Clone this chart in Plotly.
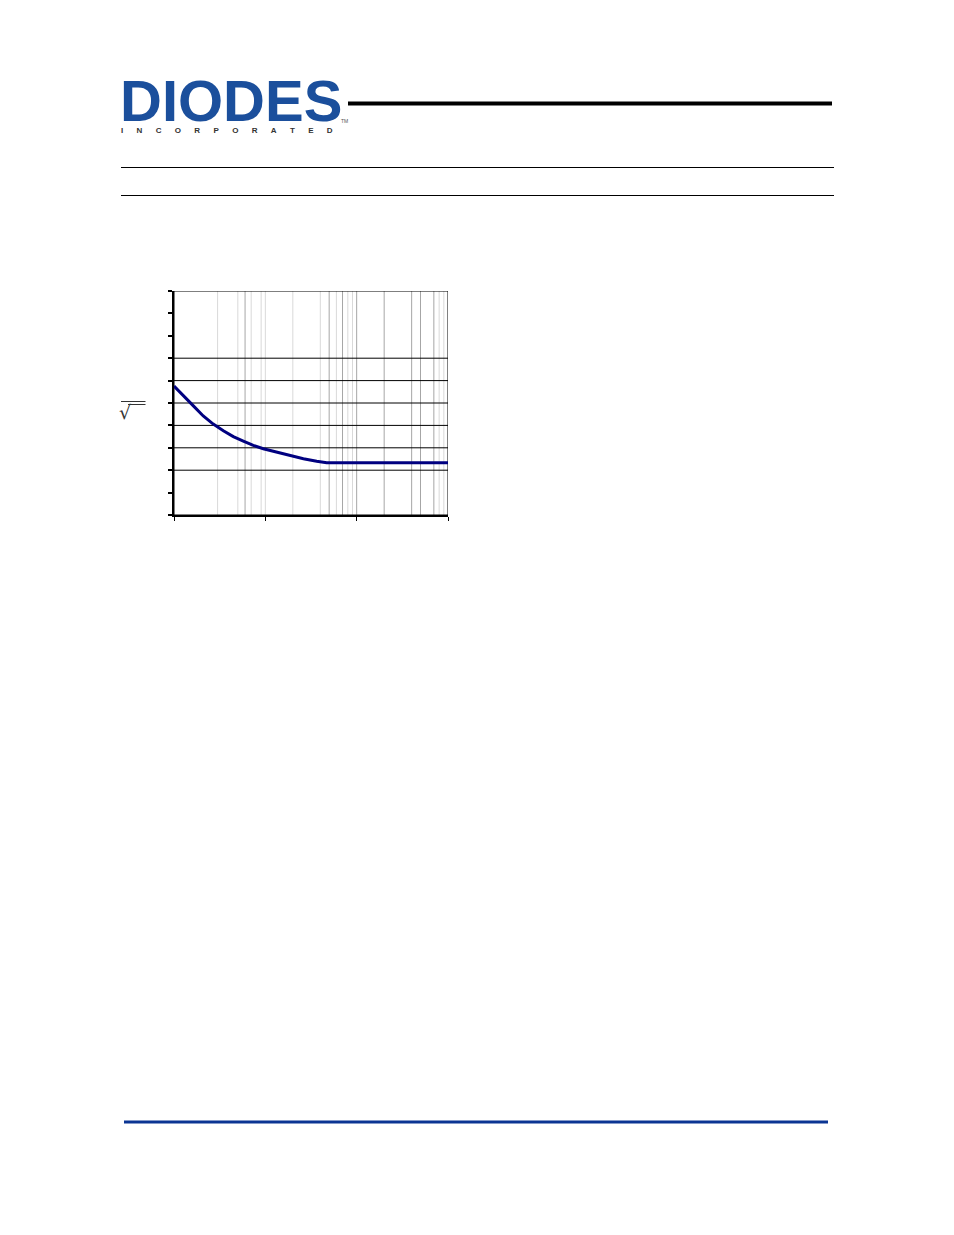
import plotly.graph_objects as go

# ---- data ----
freq = [10, 12.6, 16.3, 20.9, 26.9, 34.7, 44.6, 57.4, 73.8, 95, 133, 186, 261, 365, 470,
        1000, 10000]
noise = [5.76, 5.36, 4.87, 4.42, 4.06, 3.76, 3.50, 3.30, 3.11, 2.96, 2.80, 2.66, 2.51,
         2.40, 2.33, 2.33, 2.33]

y_ticks = [0, 1, 2, 3, 4, 5, 6, 7, 8, 9, 10]
x_ticks = [10, 100, 1000, 10000]
h_grid = [2, 3, 4, 5, 6, 7]
v_grid_light = [30, 50, 70, 90, 100, 200, 400, 600, 800, 900, 8000, 9000]
v_grid_dark = [60, 500, 700, 1000, 2000, 4000, 5000, 7000]
logo_letters = list("INCORPORATED")

W, H = 954, 1235


def px(x):
    return x / W


def py(y):
    return 1 - y / H


fig = go.Figure()
fig.add_trace(go.Scatter(x=freq, y=noise, mode="lines",
                         line=dict(color="#000080", width=3),
                         hoverinfo="skip", showlegend=False))

shapes = []
for v in v_grid_light:
    shapes.append(dict(type="line", xref="x", yref="y", x0=v, x1=v, y0=0, y1=10,
                       line=dict(color="#d9d9d9", width=1), layer="below"))
for v in v_grid_dark:
    shapes.append(dict(type="line", xref="x", yref="y", x0=v, x1=v, y0=0, y1=10,
                       line=dict(color="#a6a6a6", width=1), layer="below"))
for v in h_grid:
    shapes.append(dict(type="line", xref="x", yref="y", x0=10, x1=10000, y0=v, y1=v,
                       line=dict(color="black", width=1), layer="below"))
# plot border (top/right)
shapes.append(dict(type="rect", xref="x", yref="y", x0=10, x1=10000, y0=0, y1=10,
                   line=dict(color="black", width=1), layer="below"))

# page decoration
shapes.append(dict(type="line", xref="paper", yref="paper", x0=px(348), x1=px(832),
                   y0=py(103.5), y1=py(103.5), line=dict(color="black", width=4)))
for yy in (167.5, 195.5):
    shapes.append(dict(type="line", xref="paper", yref="paper", x0=px(121), x1=px(834),
                       y0=py(yy), y1=py(yy), line=dict(color="black", width=1)))
shapes.append(dict(type="line", xref="paper", yref="paper", x0=px(124), x1=px(828),
                   y0=py(1122), y1=py(1122), line=dict(color="#0B3593", width=3)))
# sqrt symbol bars
shapes.append(dict(type="line", xref="paper", yref="paper", x0=px(121), x1=px(145.5),
                   y0=py(401.5), y1=py(401.5), line=dict(color="#333333", width=1)))
shapes.append(dict(type="line", xref="paper", yref="paper", x0=px(128), x1=px(145.5),
                   y0=py(404.5), y1=py(404.5), line=dict(color="#333333", width=1)))

nb = "\u00a0" * 6
logo_sub = nb.join(logo_letters)

annotations = [
    dict(text="<b>DIODES</b>", xref="paper", yref="paper", x=px(118), y=py(101),
         xanchor="left", yanchor="middle", showarrow=False,
         font=dict(family="Liberation Sans", size=58, color="#1B4F9C")),
    dict(text="TM", xref="paper", yref="paper", x=px(344), y=py(121),
         xanchor="center", yanchor="middle", showarrow=False,
         font=dict(family="Liberation Sans", size=5, color="#555555")),
    dict(text="√", xref="paper", yref="paper", x=px(125.5), y=py(412),
         xanchor="center", yanchor="middle", showarrow=False,
         font=dict(family="DejaVu Sans", size=19, color="#333333")),
    dict(text=logo_sub, xref="paper", yref="paper", x=px(119), y=py(131),
         xanchor="left", yanchor="middle", showarrow=False,
         font=dict(family="Liberation Sans", size=8, color="#333333", weight="bold")),
]

fig.update_layout(
    width=W, height=H, margin=dict(l=0, r=0, t=0, b=0),
    paper_bgcolor="white", plot_bgcolor="white",
    xaxis=dict(type="log", range=[1, 4], domain=[px(174), px(448)],
               showgrid=False, zeroline=False, showline=True, linecolor="black",
               linewidth=2, ticks="outside", ticklen=4, tickwidth=1,
               tickcolor="black", tickvals=x_ticks, showticklabels=False),
    yaxis=dict(range=[0, 10], domain=[1 - 515 / H, 1 - 291 / H],
               showgrid=False, zeroline=False, showline=True, linecolor="black",
               linewidth=2, ticks="outside", ticklen=4, tickwidth=2,
               tickcolor="black", tickvals=y_ticks, showticklabels=False),
    shapes=shapes, annotations=annotations,
)

fig.write_html("out.html", config={"displayModeBar": False},
               post_script="document.body.style.margin='0';")
